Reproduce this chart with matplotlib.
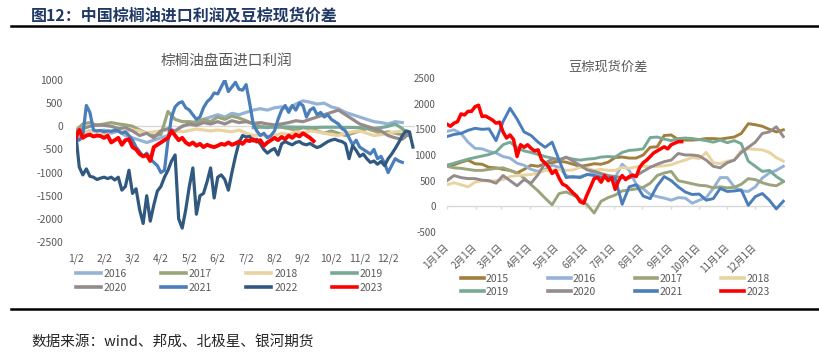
import numpy as np
import matplotlib
matplotlib.use('Agg')
import matplotlib.pyplot as plt
from matplotlib.lines import Line2D

plt.rcParams['font.family'] = ['Noto Sans CJK SC', 'DejaVu Sans']
plt.rcParams['axes.unicode_minus'] = False

# ---------------- Left chart: 棕榈油盘面进口利润 (x = months after 1/2) ----------------
left_ticks = ['1/2', '2/2', '3/2', '4/2', '5/2', '6/2', '7/2', '8/2', '9/2', '10/2', '11/2', '12/2']
left_years = ['2016', '2017', '2018', '2019', '2020', '2021', '2022', '2023']

L2016 = [-250, -150, -100, -120, -80, -150, -100, -200, -250, -300, -350, -300, -250, -200, -100, 0,
         50, 100, 150, 200, 250, 200, 280, 250, 300, 350, 380, 350, 400, 420, 380, 480, 550, 520, 480,
         500, 420, 380, 300, 250, 200, 150, 100, 80, 50, 100, 80]
L2017 = [-100, 50, 80, 20, 50, 80, 50, 30, 0, -80, -150, -200, -180, 320, 150, 100, 100, 80, 150, 100,
         200, 150, 220, 180, 120, 50, 0, -30, 0, -20, -50, -80, -30, -50, -100, -150, -100, -150, -200,
         -150, -100, -50, -100, -150, -120, -150, -180, -200]
L2018 = [-200, -150, -120, -100, -150, -100, -80, -120, -80, -100, -150, -120, -100, -80, -100, -120,
         -90, -60, -80, -100, -80, -100, -120, -80, -150, -200, -180, -220, -200, -150, -180, -120, -150,
         -100, -120, -150, -180, -200, -150, -120, -100, -150, -200, -180, -150, -120, -100, -150]
L2019 = [-30, -20, -20, -20, -15, -15, -20, -20, -25, -25, -20, -20, -20, -25, -25, -30, -30, -50, -30,
         0, 50, -50, -200]
L2020 = [-150, -50, 0, 30, 20, 0, -50, -30, -100, -200, -150, -250, -100, -50, -100, 0, 50, 20, 80, 50,
         100, 50, 120, 80, 100, 60, 80, 50, 30, 50, 80, 120, 100, 150, 200, 250, 300, 350, 250, 150, 50,
         0, -50, -100, -200, -250, -280, -150]
L2021 = [-250, -300, -200, 450, 300, -80, -100, -90, -120, -100, -110, -90, -100, -150, -120, -200,
         -300, -450, -550, -650, -580, -700, -780, -850, -1000, -950, -300, 200, 420, 500, 530, 400, 350,
         250, 150, 200, 400, 530, 600, 720, 700, 850, 1000, 750, 850, 950, 800, 780, 900, 500, 50, -100,
         -200, -150, -250, -200, -100, 150, 350, 450, 300, 450, 350, 500, 450, 200, 350, 400, 250, 300,
         200, 250, 150, 100, 50, -50, -100, -250, -400, -300, -450, -500, -550, -600, -500, -700, -650,
         -800, -1000, -850, -700, -750, -780]
L2022 = [-150, -880, -1050, -920, -1080, -1100, -1150, -1120, -1100, -1130, -1100, -1160, -1100, -1380,
         -1300, -950, -1450, -1350, -1800, -2100, -1500, -2050, -1700, -1400, -1300, -1100, -950, -750,
         -620, -2000, -2200, -1800, -1300, -900, -1900, -1500, -1450, -1200, -900, -1550, -1100, -1050,
         -1150, -1380, -1000, -650, -350, -200, -230, -220, -320, -280, -380, -500, -580, -520, -480,
         -620, -380, -330, -370, -400, -350, -330, -380, -400, -370, -420, -460, -430, -380, -330, -300,
         -280, -310, -330, -380, -700, -420, -520, -650, -600, -700, -780, -750, -820, -760, -850, -700,
         -600, -480, -350, -200, -100, -120, -450]
L2023 = [-250, -80, -250, -200, -180, -220, -200, -210, -250, -200, -350, -300, -250, -400, -300, -280,
         -450, -500, -600, -650, -620, -750, -450, -400, -350, -300, -250, -100, -200, -300, -250, -350,
         -400, -350, -420, -380, -450, -400, -430, -450, -420, -380, -400, -350, -400, -370, -330, -380,
         -300, -320, -280, -330, -300, -420, -350, -300, -250, -300, -230, -280, -200, -250, -180, -220,
         -150, -200, -250, -320]

# (values, start month, step)
left_series = {
    '2016': (L2016, 0.0, 0.25),
    '2017': (L2017, 0.0, 0.25),
    '2018': (L2018, 0.0, 0.25),
    '2019': (L2019, 6.25, 0.25),
    '2020': (L2020, 0.0, 0.25),
    '2021': (L2021, 0.0, 0.125),
    '2022': (L2022, 0.0, 0.125),
    '2023': (L2023, 0.0, 0.125),
}
left_colors = {'2016': '#95B3D7', '2017': '#9BA57B', '2018': '#E9D3A0', '2019': '#79A995',
               '2020': '#958B8B', '2021': '#4A7EBB', '2022': '#31597F', '2023': '#FF0000'}

# ---------------- Right chart: 豆棕现货价差 (x = months after 1月1日) ----------------
right_ticks = ['1月1日', '2月1日', '3月1日', '4月1日', '5月1日', '6月1日', '7月1日', '8月1日',
               '9月1日', '10月1日', '11月1日', '12月1日']
right_tick_days = [0, 31, 59, 90, 120, 151, 181, 212, 243, 273, 304, 334]
right_years = ['2015', '2016', '2017', '2018', '2019', '2020', '2021', '2023']

R2015 = [800, 810, 860, 900, 830, 820, 760, 750, 720, 700, 650, 720, 800, 780, 830, 850, 880, 860, 820,
         780, 800, 830, 820, 860, 950, 960, 940, 940, 1000, 1150, 1160, 1380, 1390, 1300, 1290, 1290,
         1300, 1320, 1320, 1310, 1330, 1350, 1420, 1610, 1590, 1560, 1500, 1450, 1490]
R2016 = [1460, 1490, 1420, 1250, 1130, 1120, 1070, 1040, 970, 940, 840, 800, 720, 680, 720, 800, 760,
         600, 560, 580, 620, 650, 590, 520, 560, 820, 700, 430, 340, 230, 190, 160, 120, 170, 160, 60,
         120, 170, 350, 560, 560, 380, 300, 290, 380, 550, 650, 700, 780]
R2017 = [780, 750, 740, 720, 700, 700, 720, 740, 750, 700, 650, 550, 420, 300, 160, 30, 250, 280, 220,
         140, 30, -130, 100, 170, 220, 300, 320, 340, 370, 450, 600, 650, 680, 500, 470, 440, 410, 400,
         360, 380, 360, 370, 430, 540, 520, 460, 420, 400, 480]
R2018 = [420, 460, 420, 380, 470, 500, 490, 500, 520, 580, 600, 610, 620, 650, 700, 700, 720, 700, 710,
         760, 740, 700, 720, 700, 700, 760, 740, 770, 780, 770, 780, 790, 810, 860, 900, 950, 930, 1050,
         850, 830, 880, 900, 1090, 1120, 1110, 1100, 1050, 950, 880]
R2019 = [800, 840, 880, 920, 950, 980, 1010, 1060, 1200, 1250, 1140, 1080, 1050, 1010, 970, 940, 910,
         950, 920, 900, 920, 930, 960, 970, 960, 1050, 1090, 1100, 1120, 1340, 1350, 1310, 1280, 1320,
         1330, 1320, 1300, 1280, 1250, 1290, 1240, 1280, 1220, 880, 780, 680, 700, 580, 490]
R2020 = [500, 600, 560, 540, 540, 510, 500, 450, 600, 500, 400, 520, 450, 620, 840, 920, 900, 960, 880,
         800, 710, 680, 640, 600, 580, 560, 550, 600, 680, 760, 820, 870, 900, 1030, 1000, 1000, 980,
         900, 780, 750, 850, 900, 1050, 1150, 1250, 1420, 1450, 1550, 1360]
R2021 = [1360, 1400, 1420, 1480, 1520, 1500, 1510, 1280, 1650, 1910, 1700, 1450, 1380, 1250, 1150,
         1250, 900, 560, 580, 560, 620, 600, 560, 560, 550, 40, 380, 420, 200, 150, 400, 580, 500, 380,
         280, 230, 240, 120, 150, 350, 290, 300, 320, 20, 190, 250, 120, -50, 100]
R2023 = [1600, 1560, 1620, 1650, 1800, 1780, 1850, 1850, 1940, 1970, 1750, 1760, 1720, 1680, 1620, 1640,
         1450, 1330, 1390, 1300, 970, 1200, 1150, 1200, 1130, 1080, 1100, 910, 840, 770, 640, 700, 550,
         430, 400, 330, 260, 200, 90, 60, 230, 380, 540, 560, 470, 600, 500, 560, 330, 500, 600, 520,
         580, 610, 580, 760, 850, 900, 970, 1040, 1080, 1120, 1160, 1120, 1200, 1230, 1260, 1260]

right_series = {
    '2015': (R2015, 0.25), '2016': (R2016, 0.25), '2017': (R2017, 0.25), '2018': (R2018, 0.25),
    '2019': (R2019, 0.25), '2020': (R2020, 0.25), '2021': (R2021, 0.25), '2023': (R2023, 0.125),
}
right_colors = {'2015': '#A17F3D', '2016': '#95B3D7', '2017': '#9BA57B', '2018': '#E9D3A0',
                '2019': '#79A995', '2020': '#958B8B', '2021': '#4A7EBB', '2023': '#FF0000'}

W, H = 820, 357
fig = plt.figure(figsize=(W / 100, H / 100), dpi=100)
fig.patch.set_facecolor('white')

def fx(px):
    return px / W

def fy(py):
    return 1 - py / H

label_color = '#595959'

# ---- header ----
fig.text(fx(31), fy(16), '图12：中国棕榈油进口利润及豆棕现货价差', fontsize=11.5, fontweight='bold',
         color='#1F3864', va='center', ha='left')
fig.add_artist(Line2D([fx(11), 1.0], [fy(26), fy(26)], color='black', lw=1.8))
fig.add_artist(Line2D([fx(11), 1.0], [fy(309), fy(309)], color='black', lw=1.8))
fig.text(fx(31), fy(342), '数据来源：wind、邦成、北极星、银河期货', fontsize=10.5, color='#262626',
         va='center', ha='left')

# ---- left axes ----
axL = fig.add_axes([fx(75.7), fy(242), fx(339.4), (242 - 80) / H])
axL.set_xlim(0, 11.95)
axL.set_ylim(-2500, 1000)
axL.axhline(0, color='#D9D9D9', lw=1.0, zorder=0)
for s in axL.spines.values():
    s.set_visible(False)
yt = list(range(-2500, 1001, 500))
axL.set_yticks(yt)
axL.set_yticklabels([str(v) for v in yt])
axL.set_xticks(np.arange(len(left_ticks)))
axL.set_xticklabels(left_ticks)
axL.tick_params(axis='both', length=0, labelsize=7.5, colors=label_color)
axL.tick_params(axis='y', pad=9)
axL.tick_params(axis='x', pad=8)
axL.patch.set_alpha(0)

for yr in left_years:
    vals, start, step = left_series[yr]
    x = start + np.arange(len(vals)) * step
    lw = 2.8 if yr == '2023' else 2.3
    axL.plot(x, vals, color=left_colors[yr], lw=lw, solid_joinstyle='round')

order = [0, 4, 1, 5, 2, 6, 3, 7]
hl = [Line2D([], [], color=left_colors[left_years[i]], lw=2.6) for i in order]
fig.legend(hl, [left_years[i] for i in order], ncol=4, loc='upper left',
           bbox_to_anchor=(fx(76), fy(269)), frameon=False, fontsize=7.5, labelcolor=label_color,
           handlelength=2.4, handletextpad=0.25, columnspacing=3.3, labelspacing=0.38,
           borderpad=0, borderaxespad=0)

fig.text(fx(226), fy(61), '棕榈油盘面进口利润', fontsize=10.5, color=label_color, ha='center', va='center')

# ---- right axes ----
xr_end = 12.06
axR = fig.add_axes([fx(447), fy(232), fx(785 - 447), (232 - 78) / H])
axR.set_xlim(0, xr_end)
axR.set_ylim(-500, 2500)
for s in axR.spines.values():
    s.set_visible(False)
month_pos = np.array(right_tick_days) / 30.4
axR.axhline(0, color='#D9D9D9', lw=1.0, zorder=0)
axR.vlines(list(month_pos) + [xr_end], -60, 0, color='#D9D9D9', lw=1.0, zorder=0)
yr_t = list(range(-500, 2501, 500))
axR.set_yticks(yr_t)
axR.set_yticklabels([str(v) for v in yr_t])
axR.set_xticks(month_pos)
axR.set_xticklabels(right_ticks, rotation=45, ha='right', va='center', rotation_mode='anchor')
axR.tick_params(axis='both', length=0, labelsize=7, colors=label_color)
axR.tick_params(axis='y', pad=8)
axR.tick_params(axis='x', pad=10)
axR.patch.set_alpha(0)

for yr in right_years:
    vals, step = right_series[yr]
    x = np.arange(len(vals)) * step
    lw = 2.5 if yr == '2023' else 2.1
    axR.plot(x, vals, color=right_colors[yr], lw=lw, solid_joinstyle='round')

hr = [Line2D([], [], color=right_colors[right_years[i]], lw=2.6) for i in order]
fig.legend(hr, [right_years[i] for i in order], ncol=4, loc='upper left',
           bbox_to_anchor=(fx(461), fy(274)), frameon=False, fontsize=7.5, labelcolor=label_color,
           handlelength=2.2, handletextpad=0.2, columnspacing=3.7, labelspacing=0.3,
           borderpad=0, borderaxespad=0)

fig.text(fx(608), fy(67), '豆棕现货价差', fontsize=9.5, color=label_color, ha='center', va='center')

fig.savefig('out.png', dpi=100, facecolor='white')
